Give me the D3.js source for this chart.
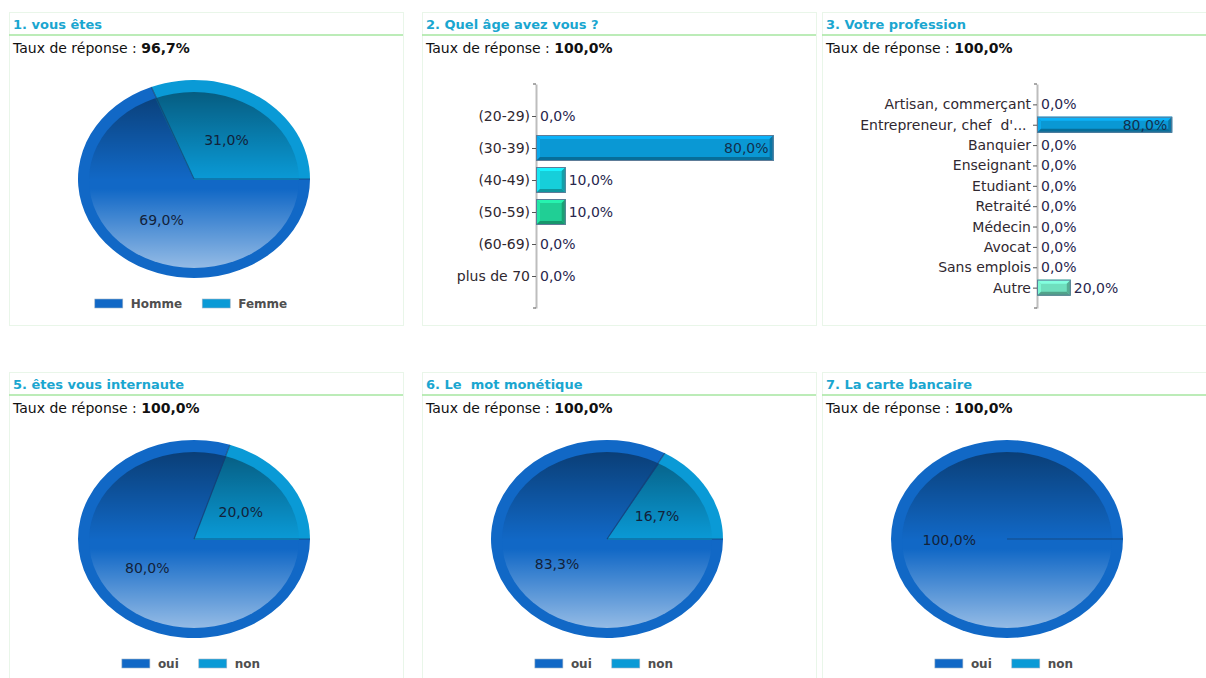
<!DOCTYPE html>
<html>
<head>
<meta charset="utf-8">
<script src="https://cdn.jsdelivr.net/npm/d3@7"></script>
<style>
  html, body { margin: 0; padding: 0; background: #ffffff; }
  svg { display: block; font-family: "DejaVu Sans", Verdana, sans-serif; }
  text { white-space: pre; }
</style>
</head>
<body>
<svg id="chart" width="1206" height="678"></svg>
<script>
// ---- Survey results ----
const q1Title = "1. vous êtes";
const q1Rate = 96.7;
const q1Labels = ["Homme", "Femme"];
const q1Values = [69.0, 31.0];

const q2Title = "2. Quel âge avez vous ?";
const q2Rate = 100.0;
const q2Categories = ["(20-29)", "(30-39)", "(40-49)", "(50-59)", "(60-69)", "plus de 70"];
const q2Values = [0.0, 80.0, 10.0, 10.0, 0.0, 0.0];

const q3Title = "3. Votre profession";
const q3Rate = 100.0;
const q3Categories = ["Artisan, commerçant", "Entrepreneur, chef  d'... ", "Banquier", "Enseignant",
  "Etudiant", "Retraité", "Médecin", "Avocat", "Sans emplois", "Autre"];
const q3Values = [0.0, 80.0, 0.0, 0.0, 0.0, 0.0, 0.0, 0.0, 0.0, 20.0];

const q5Title = "5. êtes vous internaute";
const q5Rate = 100.0;
const q5Labels = ["oui", "non"];
const q5Values = [80.0, 20.0];

const q6Title = "6. Le  mot monétique";
const q6Rate = 100.0;
const q6Labels = ["oui", "non"];
const q6Values = [83.3, 16.7];

const q7Title = "7. La carte bancaire";
const q7Rate = 100.0;
const q7Labels = ["oui", "non"];
const q7Values = [100.0, 0.0];

// ---- Styling ----
const pieColors = ["#1168c6", "#0a9ad6"];
const q2Colors = ["#0a98d4", "#0a98d4", "#16cfda", "#20cf95", "#0a98d4", "#0a98d4"];
const q3Colors = ["#0a98d4", "#0a98d4", "#16cfda", "#20cf95", "#0a98d4", "#0a98d4",
  "#0a98d4", "#0a98d4", "#0a98d4", "#6fdfbe"];

const fmt = v => d3.format(".1f")(v).replace(".", ",") + "%";

const svg = d3.select("#chart");
const defs = svg.append("defs");

// Shading of the pie face: darker at the top, lighter at the bottom
const shade = defs.append("linearGradient").attr("id", "faceShade")
  .attr("x1", 0).attr("y1", 0).attr("x2", 0).attr("y2", 1);
[[0, "#000", 0.4], [0.42, "#000", 0.06], [0.5, "#000", 0], [0.55, "#fff", 0], [1, "#fff", 0.55]]
  .forEach(([o, c, a]) => shade.append("stop").attr("offset", o).attr("stop-color", c).attr("stop-opacity", a));

// ---- Panel frame with title and response rate ----
function panel(x, y, w, h, title, rate) {
  const g = svg.append("g").attr("transform", `translate(${x},${y})`);
  g.append("rect").attr("x", 0.5).attr("y", 0.5).attr("width", w).attr("height", h)
    .attr("fill", "none").attr("stroke", "#d3ecd3").attr("stroke-dasharray", "1,1");
  g.append("text").attr("x", 4).attr("y", 16.5)
    .attr("font-size", 13).attr("font-weight", "bold").attr("fill", "#1aa6d0").text(title);
  g.append("line").attr("x1", 0).attr("x2", w).attr("y1", 23).attr("y2", 23)
    .attr("stroke", "#a6e6a0").attr("stroke-width", 1.5);
  const t = g.append("text").attr("x", 4).attr("y", 41).attr("font-size", 14).attr("fill", "#111");
  t.append("tspan").text("Taux de réponse : ");
  t.append("tspan").attr("font-weight", "bold").text(fmt(rate));
  return g;
}

// ---- Elliptical pie with a rim, a shaded face and a legend ----
function drawPie(g, labels, values) {
  const cx = 185, cy = 167, rx = 116, ry = 99, frx = 105, fry = 88, R = 100;
  const pie = d3.pie().sort(null).startAngle(Math.PI / 2).endAngle(Math.PI / 2 + 2 * Math.PI);
  const arcs = pie(values).filter(d => d.value > 0);
  const arc = d3.arc().innerRadius(0).outerRadius(R);

  const rim = g.append("g").attr("transform", `translate(${cx},${cy}) scale(${rx / R},${ry / R})`);
  rim.selectAll("path").data(arcs).join("path").attr("d", arc).attr("fill", d => pieColors[d.index]);

  const face = g.append("g").attr("transform", `translate(${cx},${cy + 1}) scale(${frx / R},${fry / R})`);
  face.selectAll("path").data(arcs).join("path").attr("d", arc).attr("fill", d => pieColors[d.index]);
  face.append("circle").attr("r", R).attr("fill", "url(#faceShade)");

  // slice edges, drawn over rim and face
  const edges = g.append("g").attr("transform", `translate(${cx},${cy}) scale(${rx / R},${ry / R})`);
  edges.selectAll("line").data(arcs).join("line")
    .attr("x1", 0).attr("y1", 0)
    .attr("x2", d => R * Math.sin(d.startAngle)).attr("y2", d => -R * Math.cos(d.startAngle))
    .attr("stroke", "#163f6e").attr("stroke-opacity", 0.7).attr("stroke-width", 1.2)
    .attr("vector-effect", "non-scaling-stroke");

  g.selectAll("text.val").data(arcs).join("text").attr("class", "val")
    .attr("x", d => cx + 0.55 * frx * Math.sin((d.startAngle + d.endAngle) / 2))
    .attr("y", d => cy + 1 - 0.55 * fry * Math.cos((d.startAngle + d.endAngle) / 2))
    .attr("dy", "0.36em").attr("text-anchor", "middle")
    .attr("font-size", 14).attr("fill", "#12223a").text(d => fmt(d.value));

  // legend, centred below the pie
  const lg = g.append("g");
  let lx = 0;
  labels.forEach((lab, i) => {
    lg.append("rect").attr("x", lx).attr("y", 287).attr("width", 28).attr("height", 9)
      .attr("fill", pieColors[i]).attr("stroke", "#9fb4c8").attr("stroke-width", 0.6);
    const t = lg.append("text").attr("x", lx + 36).attr("y", 296)
      .attr("font-size", 12).attr("font-weight", "bold").attr("fill", "#4f4f4f").text(lab);
    lx += 36 + t.node().getComputedTextLength() + 20;
  });
  const lw = lx - 20;
  lg.attr("transform", `translate(${182 - lw / 2},0)`);
}

// ---- Horizontal bar chart with bevelled bars ----
function drawBars(g, categories, values, colors, axisX, fullWidth, barH) {
  const y = d3.scalePoint().domain(categories).range([72, 296]).padding(1);
  const x = d3.scaleLinear().domain([0, 100]).range([0, fullWidth]);

  const ax = g.append("g").attr("transform", `translate(${axisX},0)`)
    .call(d3.axisLeft(y).tickSize(4).tickSizeOuter(0).tickPadding(2));
  ax.select(".domain").attr("stroke", "#bdbdbd").attr("stroke-width", 2);
  ax.selectAll(".tick line").attr("stroke", "#555");
  ax.selectAll(".tick text").attr("font-size", 14).attr("fill", "#302830")
    .attr("font-family", "DejaVu Sans, Verdana, sans-serif");
  // small end marks at both ends of the category axis
  y.range().forEach(v => ax.append("line").attr("x1", -3).attr("x2", 0).attr("y1", v).attr("y2", v)
    .attr("stroke", "#555"));

  const bars = g.append("g").attr("transform", `translate(${axisX},0)`);
  categories.forEach((c, i) => {
    const v = values[i];
    const w = x(v), yc = y(c), y0 = yc - barH / 2, y1 = yc + barH / 2;
    if (w > 0) {
      const base = d3.color(colors[i]);
      const b = Math.min(4, barH / 4);
      const bg = bars.append("g");
      bg.append("rect").attr("x", 0).attr("y", y0).attr("width", w).attr("height", barH).attr("fill", base);
      const poly = (pts, col) => bg.append("polygon").attr("points", pts.map(p => p.join(",")).join(" ")).attr("fill", col);
      poly([[0, y0], [w, y0], [w - b, y0 + b], [b, y0 + b]], base.brighter(0.45));
      poly([[0, y0], [b, y0 + b], [b, y1 - b], [0, y1]], base.brighter(0.3));
      poly([[0, y1], [b, y1 - b], [w - b, y1 - b], [w, y1]], base.darker(0.9));
      poly([[w, y0], [w, y1], [w - b, y1 - b], [w - b, y0 + b]], base.darker(0.7));
      bg.append("rect").attr("x", 0.5).attr("y", y0 + 0.5).attr("width", w - 1).attr("height", barH - 1)
        .attr("fill", "none").attr("stroke", "#5e7c98").attr("stroke-width", 1);
    }
    const inside = v >= 50;
    bars.append("text")
      .attr("x", inside ? w - 5 : w + (w > 0 ? 3 : 4))
      .attr("y", yc).attr("dy", "0.36em")
      .attr("text-anchor", inside ? "end" : "start")
      .attr("font-size", 14).attr("fill", inside ? "#12304e" : "#28264e")
      .text(fmt(v));
  });
}

// ---- Layout ----
const p1 = panel(9, 12, 394, 313, q1Title, q1Rate);
drawPie(p1, q1Labels, q1Values);

const p2 = panel(422, 12, 394, 313, q2Title, q2Rate);
drawBars(p2, q2Categories, q2Values, q2Colors, 114, 297, 26);

const p3 = panel(822, 12, 394, 313, q3Title, q3Rate);
drawBars(p3, q3Categories, q3Values, q3Colors, 215, 169, 16);

const p5 = panel(9, 372, 394, 313, q5Title, q5Rate);
drawPie(p5, q5Labels, q5Values);

const p6 = panel(422, 372, 394, 313, q6Title, q6Rate);
drawPie(p6, q6Labels, q6Values);

const p7 = panel(822, 372, 394, 313, q7Title, q7Rate);
drawPie(p7, q7Labels, q7Values);
</script>
</body>
</html>
